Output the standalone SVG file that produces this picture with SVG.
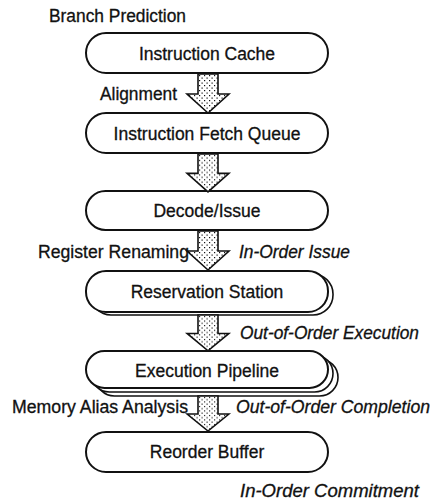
<svg xmlns="http://www.w3.org/2000/svg" width="439" height="504" viewBox="0 0 439 504">
  <defs>
    <!-- stipple fill for the block arrows -->
    <pattern id="dots" width="5" height="5" patternUnits="userSpaceOnUse">
      <rect width="5" height="5" fill="#fff"/>
      <rect x="1" y="1" width="1.2" height="1.2" fill="#111"/>
      <rect x="3.5" y="3.5" width="1.2" height="1.2" fill="#111"/>
    </pattern>
    <!-- block arrow: shaft 20 wide, head 42 wide; origin at top centre -->
    <path id="blockArrow" d="M-10,0 H10 V20 H21 L0,39 L-21,20 H-10 Z"/>
  </defs>
  <style>
    .box { fill: #fff; stroke: #111; stroke-width: 2; }
    .shade { fill: #fff; stroke: #111; stroke-width: 1.6; }
    .arrow { fill: url(#dots); stroke: #111; stroke-width: 1.6; stroke-linejoin: miter; }
    text { font-family: "Liberation Sans", Arial, sans-serif; font-size: 17.5px; fill: #111; stroke: #111; stroke-width: 0.3; }
    .node { text-anchor: middle; }
    .note { font-style: italic; }
  </style>

  <rect width="439" height="504" fill="#fff"/>

  <!-- side labels -->
  <g id="labels">
    <text x="49" y="22" textLength="137" lengthAdjust="spacingAndGlyphs">Branch Prediction</text>
    <text x="100" y="100" textLength="77" lengthAdjust="spacingAndGlyphs">Alignment</text>
    <text x="38" y="258" textLength="151" lengthAdjust="spacingAndGlyphs">Register Renaming</text>
    <text class="note" x="239" y="258" textLength="111" lengthAdjust="spacingAndGlyphs">In-Order Issue</text>
    <text class="note" x="240" y="339" textLength="179" lengthAdjust="spacingAndGlyphs">Out-of-Order Execution</text>
    <text x="12" y="413" textLength="176" lengthAdjust="spacingAndGlyphs">Memory Alias Analysis</text>
    <text class="note" x="236" y="413" textLength="194" lengthAdjust="spacingAndGlyphs">Out-of-Order Completion</text>
    <text class="note" x="240" y="497" textLength="179" lengthAdjust="spacingAndGlyphs">In-Order Commitment</text>
  </g>

  <!-- pipeline stages -->
  <g id="icache">
    <rect class="box" x="86" y="33" width="242" height="40" rx="20"/>
    <text class="node" x="207" y="59.5">Instruction Cache</text>
  </g>
  <g id="fetch-queue">
    <rect class="box" x="86" y="113" width="242" height="40" rx="20"/>
    <text class="node" x="207" y="139.5">Instruction Fetch Queue</text>
  </g>
  <g id="decode">
    <rect class="box" x="86" y="191" width="242" height="39" rx="19.5"/>
    <text class="node" x="207" y="217">Decode/Issue</text>
  </g>
  <g id="reservation-station">
    <rect class="shade" x="91" y="274" width="242" height="41" rx="20"/>
    <rect class="box" x="86" y="271" width="242" height="41" rx="20"/>
    <text class="node" x="207" y="298">Reservation Station</text>
  </g>
  <g id="execution-pipeline">
    <rect class="shade" x="96" y="359" width="242" height="37" rx="18.5"/>
    <rect class="shade" x="91" y="355" width="242" height="37" rx="18.5"/>
    <rect class="box" x="86" y="351" width="242" height="37" rx="18.5"/>
    <text class="node" x="207" y="376.5">Execution Pipeline</text>
  </g>
  <g id="reorder-buffer">
    <rect class="box" x="86" y="432" width="242" height="40" rx="20"/>
    <text class="node" x="207" y="458">Reorder Buffer</text>
  </g>

  <!-- flow between stages -->
  <g id="connectors">
    <use href="#blockArrow" class="arrow" transform="translate(208,74)"/>
    <use href="#blockArrow" class="arrow" transform="translate(208,154) scale(1,0.97)"/>
    <use href="#blockArrow" class="arrow" transform="translate(208,231)"/>
    <use href="#blockArrow" class="arrow" transform="translate(208,315) scale(1,0.92)"/>
    <use href="#blockArrow" class="arrow" transform="translate(208,396) scale(1,0.9)"/>
  </g>
</svg>
